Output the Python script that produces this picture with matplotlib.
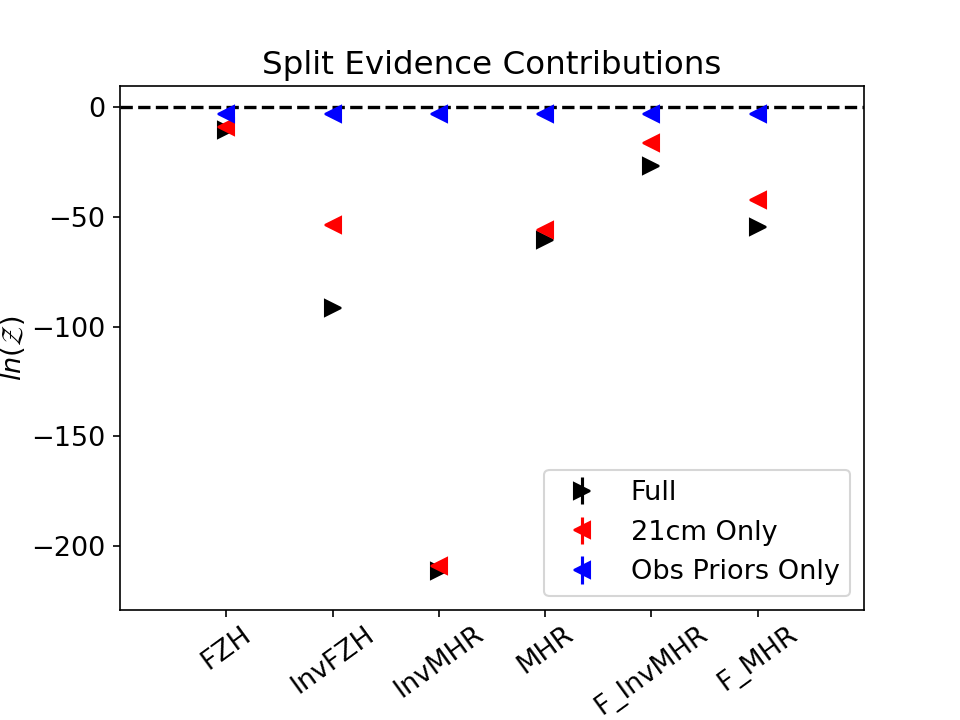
import matplotlib
matplotlib.use("Agg")
import matplotlib.pyplot as plt
import numpy as np

plt.rcParams["font.size"] = 13

models = ["FZH", "InvFZH", "InvMHR", "MHR", "F_InvMHR", "F_MHR"]
full_lnz = [-10.5, -91.6, -211.4, -60.6, -26.9, -54.7]
cm21_lnz = [-9.2, -53.8, -208.8, -56.0, -16.4, -42.4]
obs_lnz = [-3.2, -3.2, -3.2, -3.2, -3.2, -3.2]
full_err = [0.4, 0.4, 0.4, 0.4, 0.4, 0.4]
cm21_err = [0.4, 0.4, 0.4, 0.4, 0.4, 0.4]
obs_err = [0.2, 0.2, 0.2, 0.2, 0.2, 0.2]

x = np.arange(len(models))

fig, ax = plt.subplots(figsize=(6.4, 4.8), dpi=150)
ax.errorbar(x, full_lnz, yerr=full_err, fmt=">", color="k", ms=7.5, ls="none", label="Full")
ax.errorbar(x, cm21_lnz, yerr=cm21_err, fmt="<", color="r", ms=7.5, ls="none", label="21cm Only")
ax.errorbar(x, obs_lnz, yerr=obs_err, fmt="<", color="b", ms=7.5, ls="none", label="Obs Priors Only")
ax.axhline(0, color="k", ls="--", lw=1.6)

ax.set_xlim(-1, 6)
ax.set_ylim(-229, 9.5)
ax.set_xticks(x)
ax.set_xticklabels(models, rotation=36)
ax.tick_params(axis="x", pad=2)
ax.set_ylabel(r"$ln(\mathcal{Z})$", labelpad=2)
ax.set_title("Split Evidence Contributions", fontsize=15.6)
ax.legend(loc="lower right")

plt.subplots_adjust(left=0.125, right=0.9, top=0.88, bottom=0.153)
fig.savefig("out.png", dpi=150)
